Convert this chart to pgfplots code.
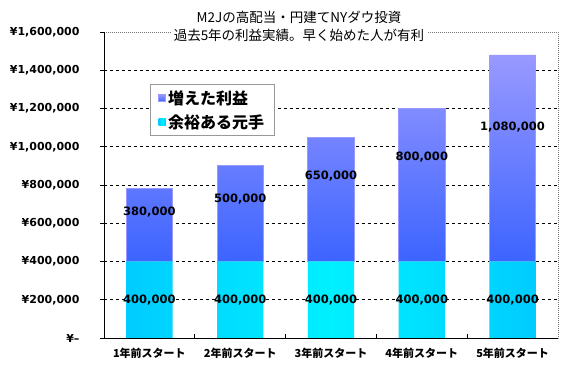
\documentclass[border=0pt]{standalone}
\usepackage{fontspec}
\setmainfont{DejaVu Sans}
\newfontfamily\jp{Noto Sans CJK JP}
\usepackage{pgfplots}
\pgfplotsset{compat=1.18}
\definecolor{lav}{RGB}{153,153,255}
\definecolor{blu}{RGB}{60,100,255}
\definecolor{cyA}{RGB}{0,204,255}
\definecolor{cyB}{RGB}{0,240,255}
\definecolor{brd}{RGB}{120,120,120}
\newcommand\vl{\bfseries\fontsize{11.5bp}{13bp}\selectfont}
\newcommand\topl{¥1,600,000}
\begin{document}
\begin{tikzpicture}
\path[use as bounding box] (0bp,0bp) rectangle (566bp,367bp);
\begin{axis}[
  at={(104bp,29bp)}, anchor=south west, scale only axis,
  width=454bp, height=306bp,
  xmin=-0.5, xmax=4.5, ymin=0, ymax=1600000,
  ybar stacked, bar width=0.51,
  axis line style={draw=brd, line width=0.7bp, dash pattern=on 1bp off 1bp},
  tick pos=left, tick align=outside,
  major tick length=4bp, minor tick length=4bp,
  xtick={0,1,2,3,4},
  xticklabels={1年前スタート,2年前スタート,3年前スタート,4年前スタート,5年前スタート},
  x tick label style={font=\jp\bfseries\fontsize{11bp}{13bp}\selectfont, yshift=-3bp},
  major x tick style={draw=none},
  minor xtick={0.5,1.5,2.5,3.5},
  minor x tick style={draw=black, solid, line width=0.6bp, yshift=4bp},
  ytick={0,200000,400000,600000,800000,1000000,1200000,1400000},
  yticklabels={¥–,{¥200,000},{¥400,000},{¥600,000},{¥800,000},{¥1,000,000},{¥1,200,000},{¥1,400,000}},
  extra y ticks={1600000},
  extra y tick labels={\topl},
  extra y tick style={grid=none},
  y tick label style={font=\bfseries\fontsize{11bp}{13bp}\selectfont, xshift=-17bp},
  major y tick style={draw=black, solid, line width=0.6bp},
  scaled y ticks=false,
  ymajorgrids=true,
  major grid style={black, dash pattern=on 3bp off 3bp, line width=0.6bp},
  reverse legend,
  legend cell align=left,
  legend style={at={(0.101,0.830)}, anchor=north west, draw=gray!80, solid, line width=0.8bp,
    font=\jp\bfseries\fontsize{16bp}{18bp}\selectfont,
    inner xsep=8bp, inner ysep=4bp, row sep=5bp},
  after end axis/.code={
    \draw[black, solid, line width=0.8bp] (rel axis cs:0,1) -- (rel axis cs:0,0) -- (rel axis cs:1,0);
    \node[font=\vl] at (axis cs:0,200000) {400,000};
    \node[font=\vl] at (axis cs:1,200000) {400,000};
    \node[font=\vl] at (axis cs:2,200000) {400,000};
    \node[font=\vl] at (axis cs:3,200000) {400,000};
    \node[font=\vl] at (axis cs:4,200000) {400,000};
    \node[font=\vl] at (axis cs:0,660000) {380,000};
    \node[font=\vl] at (axis cs:1,729000) {500,000};
    \node[font=\vl] at (axis cs:2,845000) {650,000};
    \node[font=\vl] at (axis cs:3,944000) {800,000};
    \node[font=\vl] at (axis cs:4,1102000) {1,080,000};
  },
]
\addplot[draw=none, left color=cyA, right color=cyA, middle color=cyB,
  legend image code/.code={\fill[cyA] (0bp,-3.5bp) rectangle (7bp,3.5bp);}]
  coordinates {(0,400000) (1,400000) (2,400000) (3,400000) (4,400000)};
\addlegendentry{余裕ある元手}
\addplot[draw=lav, line width=0.8bp, top color=lav, bottom color=blu,
  legend image code/.code={\fill[top color=lav, bottom color=blu] (0bp,-3.5bp) rectangle (7bp,3.5bp);}]
  coordinates {(0,380000) (1,500000) (2,650000) (3,800000) (4,1080000)};
\addlegendentry{増えた利益}
\end{axis}
\node[font=\jp\fontsize{13.5bp}{16bp}\selectfont] at (299bp,350bp) {M2Jの高配当・円建てNYダウ投資};
\node[font=\jp\fontsize{13.5bp}{16bp}\selectfont, fill=white, inner xsep=3bp, inner ysep=1bp] at (299bp,332bp) {過去5年の利益実績。早く始めた人が有利};
\end{tikzpicture}
\end{document}
